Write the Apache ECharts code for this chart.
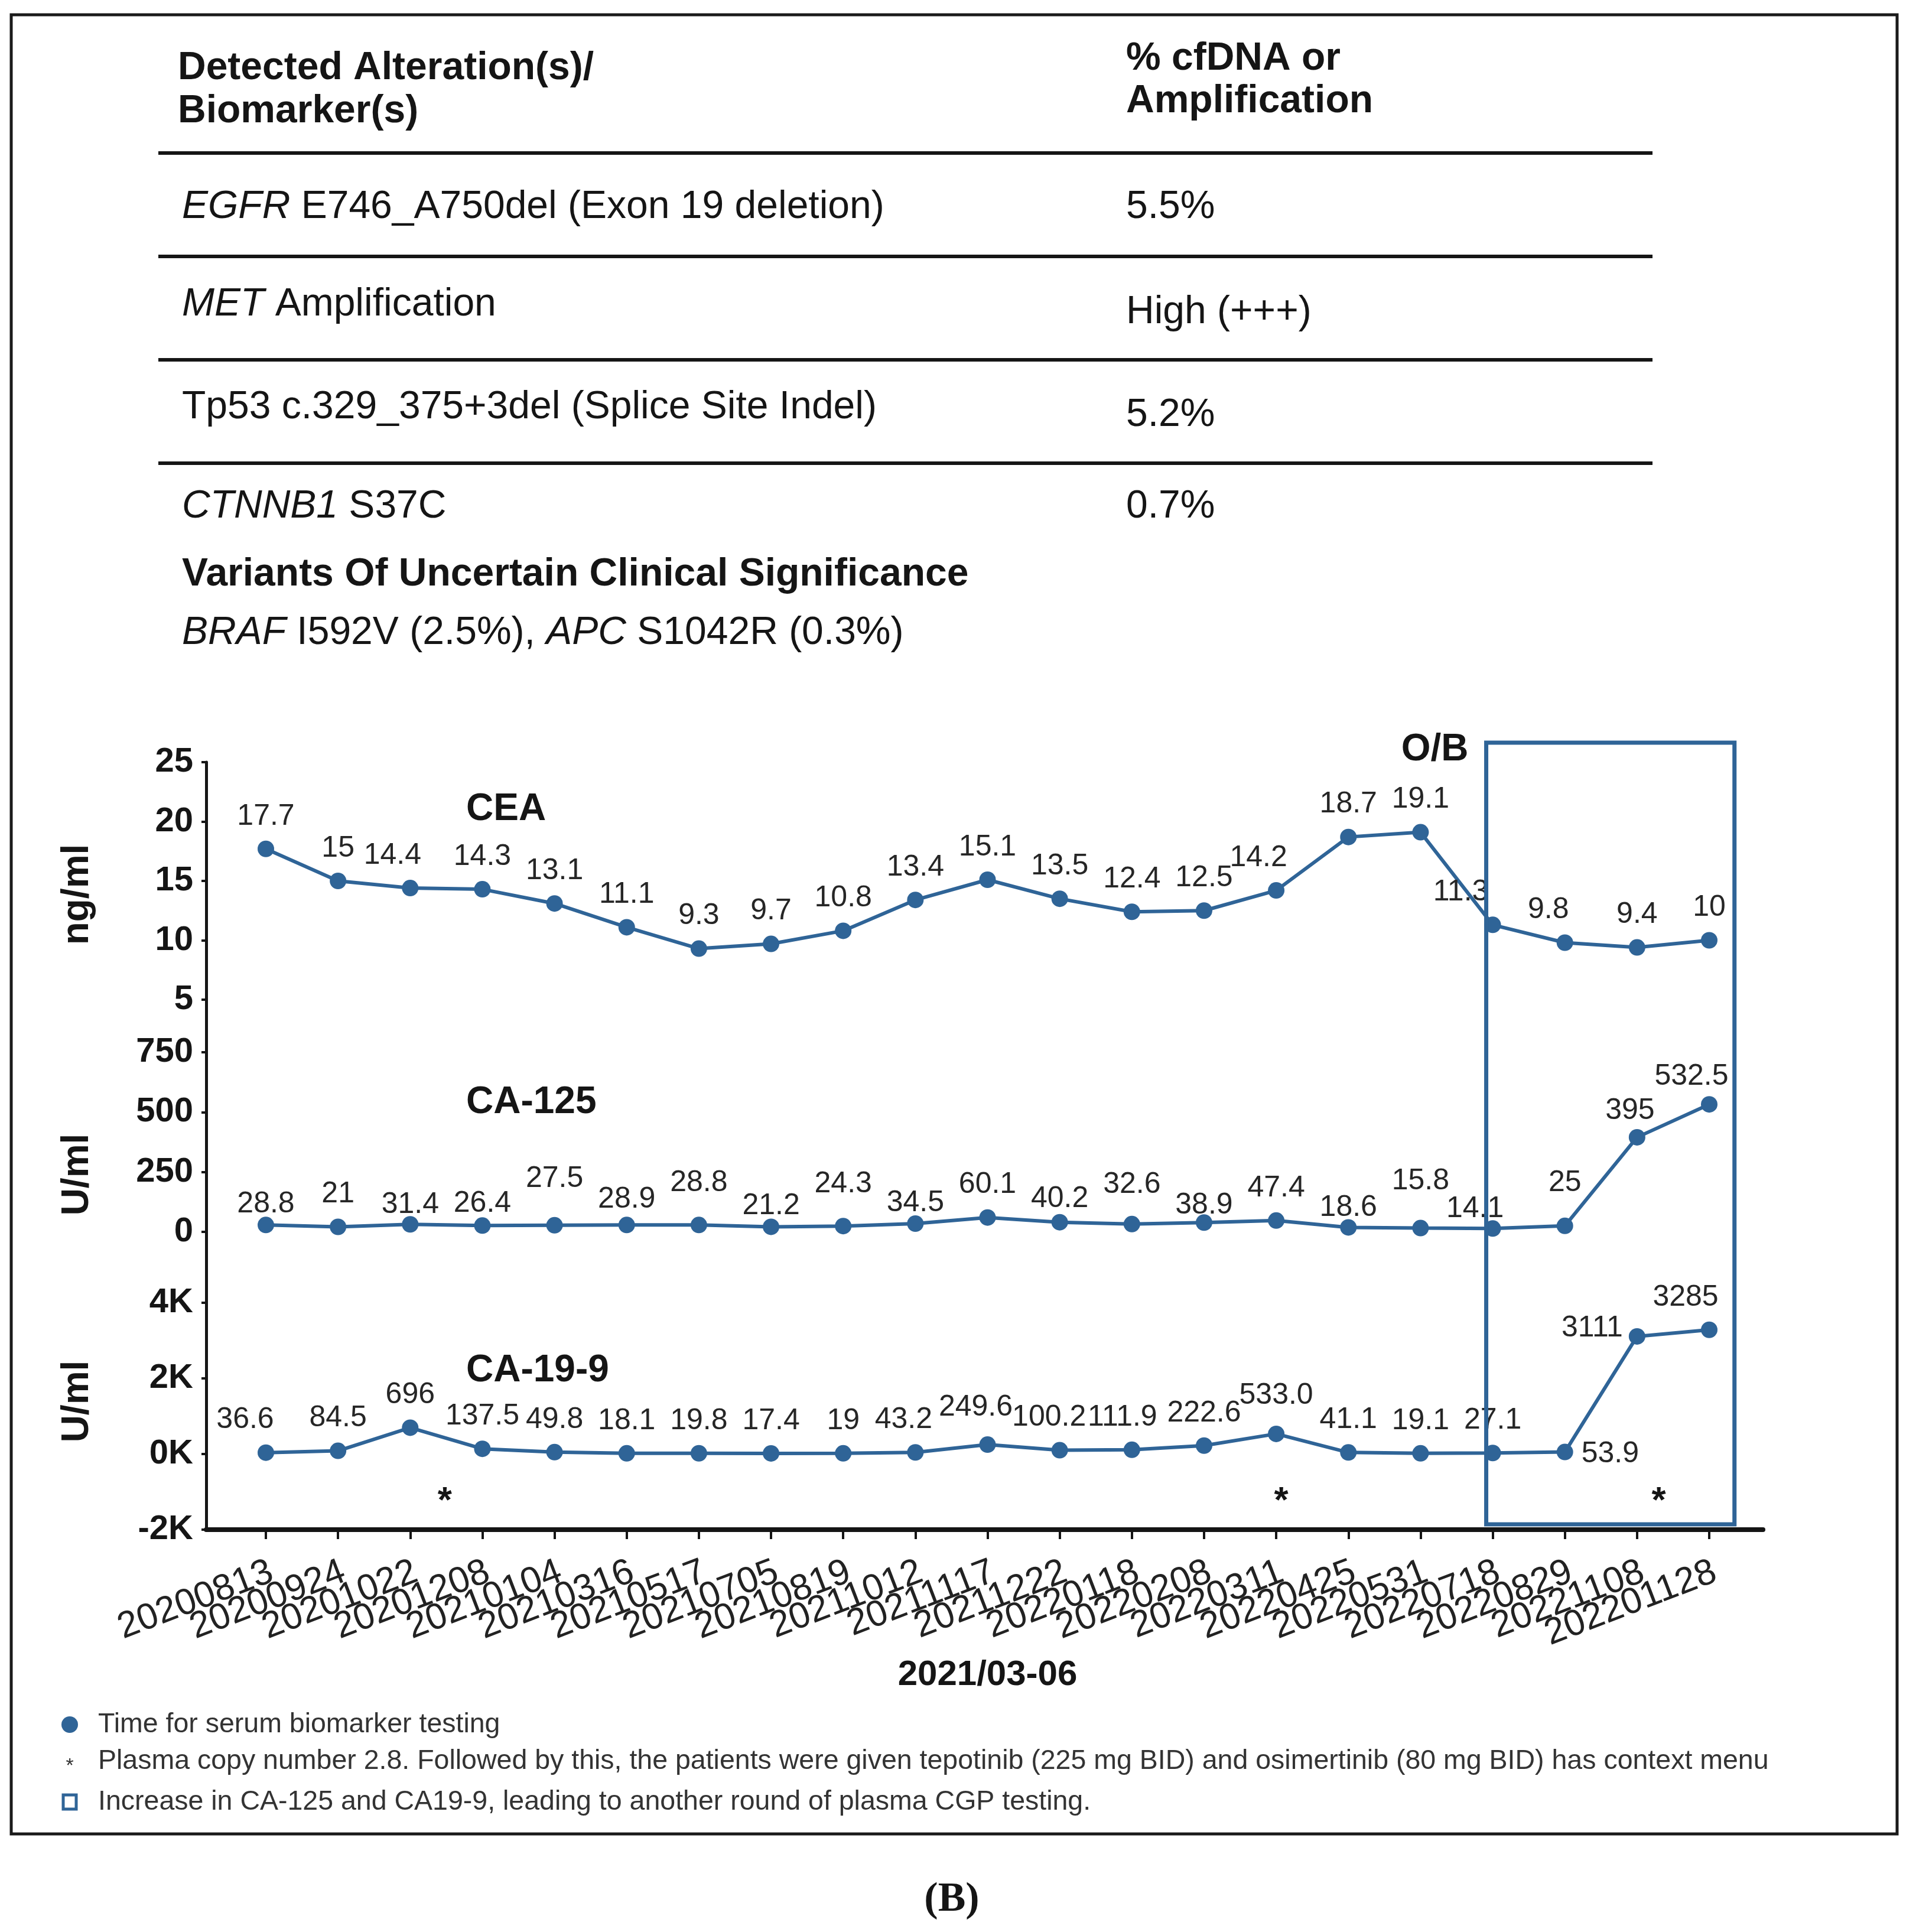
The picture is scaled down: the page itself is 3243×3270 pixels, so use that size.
<!DOCTYPE html>
<html><head><meta charset="utf-8">
<script src="https://cdn.jsdelivr.net/npm/echarts@6/dist/echarts.min.js"></script>
<style>html,body{margin:0;padding:0;background:#fff}#c{width:3243px;height:3270px}</style>
</head><body><div id="c"></div>
<script>
// ---------------- data ----------------
const dates = ['20200813','20200924','20201022','20201208','20210104','20210316','20210517','20210705','20210819','20211012','20211117','20211222','20220118','20220208','20220311','20220425','20220531','20220718','20220829','20221108','202201128'];
const cea   = [17.7,15,14.4,14.3,13.1,11.1,9.3,9.7,10.8,13.4,15.1,13.5,12.4,12.5,14.2,18.7,19.1,11.3,9.8,9.4,10];
const ca125 = [28.8,21,31.4,26.4,27.5,28.9,28.8,21.2,24.3,34.5,60.1,40.2,32.6,38.9,47.4,18.6,15.8,14.1,25,395,532.5];
const ca199 = [36.6,84.5,696,137.5,49.8,18.1,19.8,17.4,19,43.2,249.6,100.2,111.9,222.6,533.0,41.1,19.1,27.1,53.9,3111,3285];
const ca199Text = {14: '533.0'};
const plasmaMarks = [2.48, 14.07, 19.3];    // category positions of "*"
const obRange = [16.91, 20.35];             // category span of O/B box
const ceaAxis = {min: 5, max: 25, interval: 5};
const ca125Axis = {min: 0, max: 750, interval: 250};
const ca199Axis = {min: -2000, max: 4000, interval: 2000};
const xName = '2021/03-06';
const tableHeader = [['Detected Alteration(s)/', 'Biomarker(s)'], ['% cfDNA or', 'Amplification']];
const tableRows = [
  {gene: 'EGFR', rest: ' E746_A750del (Exon 19 deletion)', value: '5.5%'},
  {gene: 'MET', rest: ' Amplification', value: 'High (+++)'},
  {gene: '', rest: 'Tp53 c.329_375+3del (Splice Site Indel)', value: '5.2%'},
  {gene: 'CTNNB1', rest: ' S37C', value: '0.7%'}
];
const vusTitle = 'Variants Of Uncertain Clinical Significance';
const vusLine = '{i|BRAF} I592V (2.5%), {i|APC} S1042R (0.3%)';
const notes = [
  'Time for serum biomarker testing',
  'Plasma copy number 2.8. Followed by this, the patients were given tepotinib (225 mg BID) and osimertinib (80 mg BID) has context menu',
  'Increase in CA-125 and CA19-9, leading to another round of plasma CGP testing.'
];

// ---------------- styles ----------------
const FONT = 'Liberation Sans, Arial, sans-serif';
const BLUE = '#2f6497';
const INK = '#151515';
const GL = 450, GR = 350, LABEL_SHIFT = 10;
// label placement nudges (pixels) – layout only
const ceaNudge = {2: [-30, 0], 14: [-30, 0], 17: [-54, 0], 18: [-28, 0]};
const ca125NudgeY = [20, 0, 22, 18, -24, 12, -16, 20, -16, 20, 0, 16, -12, 26, 0, 22, -24, 22, -18, 10, 8];
const ca199Nudge = {0: [-35, 0], 9: [-20, 0], 10: [-20, -8], 11: [-18, 0], 12: [-16, 0], 14: [0, -10]};

const chart = echarts.init(document.getElementById('c'), null, {renderer: 'canvas'});

function yAxisCfg(idx, ax, fmt) {
  return {
    type: 'value', gridIndex: idx, min: ax.min, max: ax.max, interval: ax.interval,
    offset: 101, splitLine: {show: false},
    axisLine: {show: false, onZero: false},
    axisTick: {show: true, length: 8, lineStyle: {color: INK, width: 4}},
    axisLabel: {show: true, margin: 22, fontSize: 58, fontWeight: 'bold', fontFamily: FONT, color: INK, formatter: fmt}
  };
}
function xAxisCfg(idx, mode) {
  // mode: 'hidden' | 'ticks' | 'labels'
  return {
    type: 'category', gridIndex: idx, data: dates, boundaryGap: false, show: mode !== 'hidden',
    axisLine: {show: false, onZero: false},
    axisTick: {show: mode === 'ticks', length: 16, interval: 0, lineStyle: {color: INK, width: 4}},
    axisLabel: {show: mode === 'labels', interval: 0, rotate: 21, margin: 70, fontSize: 62, fontFamily: FONT, color: '#222'},
    name: mode === 'ticks' ? xName : '', nameLocation: 'middle', nameGap: 216,
    nameTextStyle: {fontSize: 60, fontWeight: 'bold', fontFamily: FONT, color: INK}
  };
}
function lineSeries(idx, values, overrides, textMap) {
  return {
    type: 'line', xAxisIndex: idx, yAxisIndex: idx, z: 5,
    data: values.map((v, i) => {
      const o = overrides(i);
      return o ? {value: v, label: o} : v;
    }),
    symbol: 'circle', symbolSize: 28,
    lineStyle: {color: BLUE, width: 6}, itemStyle: {color: BLUE},
    label: {show: true, position: 'top', distance: 16, fontSize: 50, fontFamily: FONT, color: '#262626',
      formatter: p => (textMap && textMap[p.dataIndex]) || String(values[p.dataIndex])}
  };
}

const grids = [
  {left: GL, right: GR, top: 1290, height: 402},
  {left: GL, right: GR, top: 1781, height: 304},
  {left: GL, right: GR, top: 2205, height: 384},
  {left: 349, right: 259, top: 1290, height: 1299},
  {left: GL + LABEL_SHIFT, right: GR - LABEL_SHIFT, top: 2205, height: 384}
].map(g => Object.assign({outerBoundsMode: 'none', containLabel: false}, g));

chart.setOption({
  animation: false,
  backgroundColor: '#fff',
  grid: grids,
  xAxis: [
    xAxisCfg(0, 'hidden'), xAxisCfg(1, 'hidden'), xAxisCfg(2, 'ticks'),
    {type: 'value', gridIndex: 3, min: 0, max: 1, splitLine: {show: false}, position: 'bottom',
     axisLine: {show: true, onZero: false, lineStyle: {color: INK, width: 8}},
     axisTick: {show: false}, axisLabel: {show: false}},
    xAxisCfg(4, 'labels')
  ],
  yAxis: [
    yAxisCfg(0, ceaAxis, v => String(v)),
    yAxisCfg(1, ca125Axis, v => String(v)),
    yAxisCfg(2, ca199Axis, v => (v / 1000) + 'K'),
    {type: 'value', gridIndex: 3, min: 0, max: 1, position: 'left', splitLine: {show: false},
     axisLine: {show: true, onZero: false, lineStyle: {color: INK, width: 5}},
     axisTick: {show: false}, axisLabel: {show: false}},
    {type: 'value', gridIndex: 4, show: false}
  ],
  series: [
    lineSeries(0, cea, i => ceaNudge[i] ? {offset: ceaNudge[i]} : null),
    lineSeries(1, ca125, i => {
      const o = {offset: [0, ca125NudgeY[i]]};
      if (i === 17) o.offset = [-30, ca125NudgeY[i]];
      if (i === 20) o.offset = [-30, ca125NudgeY[i]];
      if (i === 19) o.offset = [-12, ca125NudgeY[i]];
      return o;
    }),
    lineSeries(2, ca199, i => {
      if (i === 18) return {position: 'right', distance: 14, offset: [0, 4]};
      if (i === 19) return {position: 'left', distance: 10, offset: [0, -14]};
      if (i === 20) return {offset: [-40, 0]};
      return ca199Nudge[i] ? {offset: ca199Nudge[i]} : null;
    }, ca199Text)
  ]
});

// ---------------- annotations (anchored to the axes) ----------------
const x0 = chart.convertToPixel({xAxisIndex: 2}, 0);
const x20 = chart.convertToPixel({xAxisIndex: 2}, 20);
const xAt = i => x0 + (x20 - x0) * i / 20;
const yA = chart.convertToPixel({yAxisIndex: 0}, 5), yB = chart.convertToPixel({yAxisIndex: 0}, 25);
const yCEA = v => yA + (yB - yA) * (v - 5) / 20;
const yC = chart.convertToPixel({yAxisIndex: 2}, -2000), yD = chart.convertToPixel({yAxisIndex: 2}, 4000);
const yK = v => yC + (yD - yC) * (v + 2000) / 6000;

const g = [];
const TF = 66;
const txt = (x, y, text, opt) => g.push({type: 'text', x, y, z: 10, style: Object.assign({
  text, fontSize: TF, fontFamily: FONT, fill: INK, align: 'left', verticalAlign: 'middle'}, opt || {})});
const rich = {i: {fontStyle: 'italic', fontSize: TF, fontFamily: FONT, fill: INK}};

// frame
g.push({type: 'rect', shape: {x: 19, y: 25, width: 3192, height: 3079}, style: {fill: 'none', stroke: '#1a1a1a', lineWidth: 5}, z: 1});
// table
txt(301, 116, tableHeader[0][0], {fontWeight: 'bold'});
txt(301, 189, tableHeader[0][1], {fontWeight: 'bold'});
txt(1906, 100, tableHeader[1][0], {fontWeight: 'bold'});
txt(1906, 172, tableHeader[1][1], {fontWeight: 'bold'});
[259, 434, 609, 784].forEach(y => g.push({type: 'line', shape: {x1: 268, y1: y, x2: 2797, y2: y}, style: {stroke: INK, lineWidth: 6}, z: 2}));
const rowY = [351, 516, 690, 858], valY = [351, 529, 703, 858];
tableRows.forEach((r, k) => {
  txt(308, rowY[k], (r.gene ? '{i|' + r.gene + '}' : '') + r.rest, {rich});
  txt(1906, valY[k], r.value);
});
txt(308, 973, vusTitle, {fontWeight: 'bold'});
txt(308, 1072, vusLine, {rich});

// series titles and axis names
txt(789, 1370, 'CEA', {fontWeight: 'bold', fontSize: 64});
txt(789, 1866, 'CA-125', {fontWeight: 'bold', fontSize: 64});
txt(789, 2320, 'CA-19-9', {fontWeight: 'bold', fontSize: 64});
[['ng/ml', 1514], ['U/ml', 1988], ['U/ml', 2372]].forEach(([t, y]) =>
  g.push({type: 'text', x: 131, y, rotation: Math.PI / 2, z: 10,
    style: {text: t, fontSize: 64, fontWeight: 'bold', fontFamily: FONT, fill: INK, align: 'center', verticalAlign: 'middle'}}));

// O/B box
const bl = xAt(obRange[0]), br = xAt(obRange[1]);
const bt = yCEA(26.64), bb = yK(-1860);
g.push({type: 'rect', shape: {x: bl, y: bt, width: br - bl, height: bb - bt}, style: {fill: 'none', stroke: BLUE, lineWidth: 7}, z: 8});
txt(bl - 30, bt + 12, 'O/B', {fontWeight: 'bold', align: 'right', fontSize: 64});

// plasma asterisks
plasmaMarks.forEach(i => txt(xAt(i), yK(-1270), '*', {fontSize: 62, fontWeight: 'bold', align: 'center'}));

// footnotes
g.push({type: 'circle', shape: {cx: 118, cy: 2919, r: 14}, style: {fill: BLUE}, z: 10});
txt(118, 2990, '*', {fontSize: 34, align: 'center', fill: '#333'});
g.push({type: 'rect', shape: {x: 107, y: 3038, width: 22, height: 24}, style: {fill: '#fff', stroke: BLUE, lineWidth: 5}, z: 10});
[2919, 2981, 3050].forEach((y, k) => txt(166, y, notes[k], {fontSize: 46.5, fill: '#333'}));

// panel letter
txt(1611, 3216, '(B)', {fontSize: 70, fontWeight: 'bold', fontFamily: 'Liberation Serif, Times New Roman, serif', align: 'center'});

chart.setOption({graphic: {elements: g}});
</script>
</body></html>
